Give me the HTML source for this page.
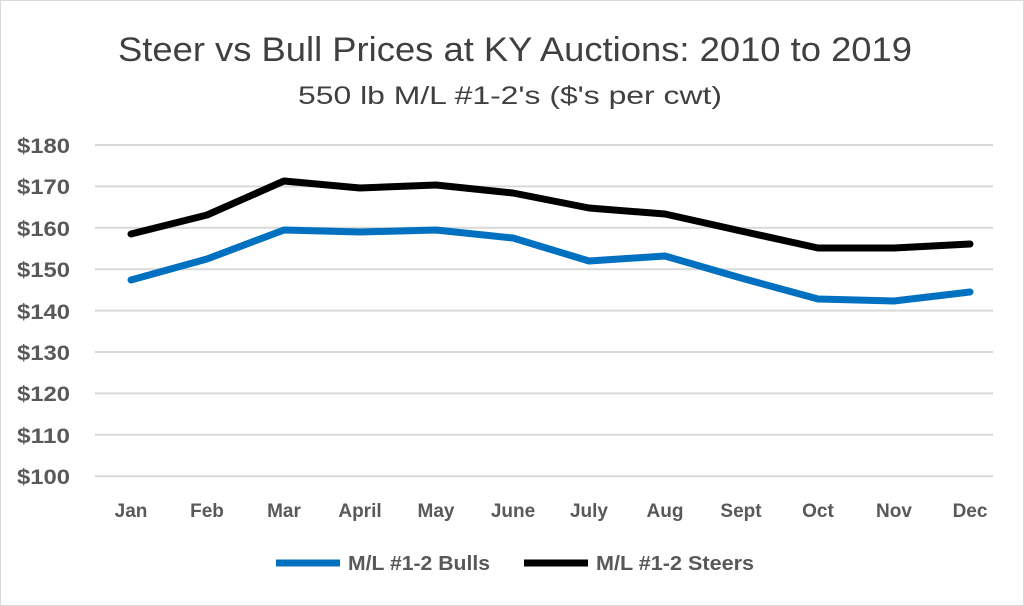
<!DOCTYPE html>
<html><head><meta charset="utf-8"><style>
html,body{margin:0;padding:0;background:#fff}
</style></head><body>
<svg width="1024" height="606" xmlns="http://www.w3.org/2000/svg" style="display:block">
<rect x="0.5" y="0.5" width="1023" height="605" fill="#fff" stroke="#d9d9d9"/>
<g font-family="Liberation Sans, sans-serif" fill="#404040">
<text x="118" y="61" font-size="34" textLength="794" lengthAdjust="spacingAndGlyphs">Steer vs Bull Prices  at KY Auctions: 2010 to 2019</text>
<text x="298" y="104" font-size="25" textLength="424" lengthAdjust="spacingAndGlyphs">550 lb M/L #1-2's ($'s per cwt)</text>
</g>
<g stroke="#d9d9d9" stroke-width="2">
<line x1="95" x2="993" y1="145" y2="145"/><line x1="95" x2="993" y1="186.4" y2="186.4"/>
<line x1="95" x2="993" y1="227.8" y2="227.8"/><line x1="95" x2="993" y1="269.2" y2="269.2"/>
<line x1="95" x2="993" y1="310.6" y2="310.6"/><line x1="95" x2="993" y1="352" y2="352"/>
<line x1="95" x2="993" y1="393.4" y2="393.4"/><line x1="95" x2="993" y1="434.8" y2="434.8"/>
<line x1="95" x2="993" y1="476.2" y2="476.2"/>
</g>
<g font-family="Liberation Sans, sans-serif" font-weight="bold" font-size="21" fill="#595959">
<text x="17" y="153" textLength="53" lengthAdjust="spacingAndGlyphs">$180</text>
<text x="17" y="194" textLength="53" lengthAdjust="spacingAndGlyphs">$170</text>
<text x="17" y="236" textLength="53" lengthAdjust="spacingAndGlyphs">$160</text>
<text x="17" y="277" textLength="53" lengthAdjust="spacingAndGlyphs">$150</text>
<text x="17" y="319" textLength="53" lengthAdjust="spacingAndGlyphs">$140</text>
<text x="17" y="360" textLength="53" lengthAdjust="spacingAndGlyphs">$130</text>
<text x="17" y="401" textLength="53" lengthAdjust="spacingAndGlyphs">$120</text>
<text x="17" y="443" textLength="53" lengthAdjust="spacingAndGlyphs">$110</text>
<text x="17" y="484" textLength="53" lengthAdjust="spacingAndGlyphs">$100</text>
</g>
<g font-family="Liberation Sans, sans-serif" font-weight="bold" font-size="19" fill="#595959" text-anchor="middle">
<text x="131" y="517">Jan</text><text x="207" y="517">Feb</text><text x="284" y="517">Mar</text>
<text x="360" y="517">April</text><text x="436" y="517">May</text><text x="513" y="517">June</text>
<text x="589" y="517">July</text><text x="665" y="517">Aug</text><text x="741" y="517">Sept</text>
<text x="818" y="517">Oct</text><text x="894" y="517">Nov</text><text x="970" y="517">Dec</text>
</g>
<polyline fill="none" stroke="#000" stroke-width="7" stroke-linejoin="round" stroke-linecap="round"
points="131,234 207,215 284,181 360,188 436,185 513,193 589,208 665,214 741,231 818,248 894,248 970,244"/>
<polyline fill="none" stroke="#0070C0" stroke-width="7" stroke-linejoin="round" stroke-linecap="round"
points="131,280 207,259 284,230 360,232 436,230 513,238 589,261 665,256 741,278 818,299 894,301 970,292"/>
<line x1="276" x2="340" y1="563" y2="563" stroke="#0070C0" stroke-width="7"/>
<line x1="524" x2="588" y1="563" y2="563" stroke="#000" stroke-width="7"/>
<g font-family="Liberation Sans, sans-serif" font-weight="bold" font-size="20" fill="#595959">
<text x="348" y="570" textLength="142" lengthAdjust="spacingAndGlyphs">M/L #1-2 Bulls</text>
<text x="596" y="570" textLength="158" lengthAdjust="spacingAndGlyphs">M/L #1-2 Steers</text>
</g>
</svg>
</body></html>
